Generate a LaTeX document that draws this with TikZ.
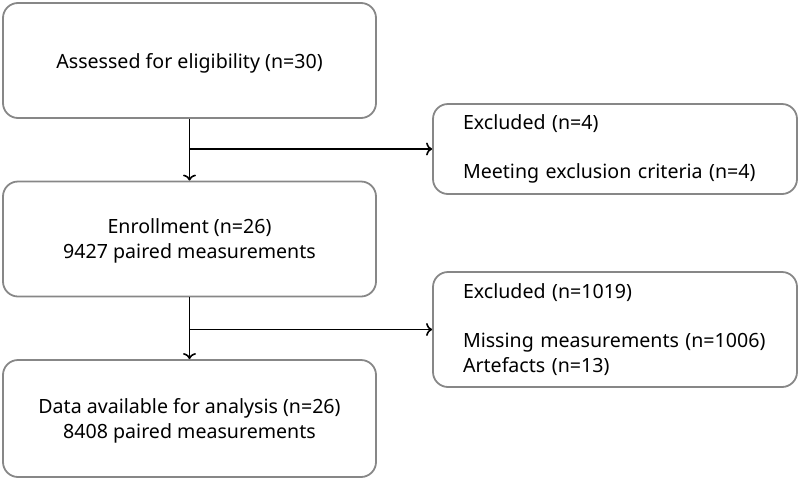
\documentclass[tikz,border=0pt]{standalone}
\usepackage{fontspec}
\setmainfont{Noto Sans}
\usetikzlibrary{arrows.meta,calc,positioning}

\tikzset{
    flowbox/.style = {draw=boxgray, line width=1.8pt, rounded corners=15pt,
                      align=center, minimum width=373pt, minimum height=115pt,
                      text depth=0pt,
                      font=\fontsize{19.6}{25}\selectfont},
    exclbox/.style = {draw=boxgray, line width=1.8pt, rounded corners=15pt,
                      align=left, text width=304pt, inner xsep=30pt,
                      minimum width=364pt,
                      font=\fontsize{19.6}{24.5}\selectfont},
    flowarrow/.style = {->, line width=1.8pt}
}
\definecolor{boxgray}{RGB}{135,135,135}

\begin{document}
\begin{tikzpicture}[x=1pt,y=-1pt,
        > = {To[length=6pt,width=13pt,line width=1.6pt]}
    ]
    \useasboundingbox (0,0) rectangle (800,480);
    % Main column
    \node[flowbox] (assess) at (189.5,60.5) {Assessed for eligibility (n=30)};
    \node[flowbox] (enrol) at (189.5,239) {Enrollment (n=26)\\9427 paired measurements};
    \node[flowbox, minimum height=117pt] (analysis) at (189.5,418.5)
        {Data available for analysis (n=26)\\8408 paired measurements};
    % Exclusions
    \node[exclbox, minimum height=90pt] (excla) at (615,149)
        {Excluded (n=4)\\[24.5pt]Meeting exclusion criteria (n=4)};
    \node[exclbox, minimum height=115pt] (exclb) at (615,329.5)
        {Excluded (n=1019)\\[24.5pt]Missing measurements (n=1006)\\Artefacts (n=13)};
    % Arrows
    \draw[flowarrow] (assess) -- (enrol);
    \draw[flowarrow] (assess.south |- excla.west) -- (excla.west);
    \draw[flowarrow] (enrol) -- (analysis);
    \draw[flowarrow] (enrol.south |- exclb.west) -- (exclb.west);
\end{tikzpicture}
\end{document}
